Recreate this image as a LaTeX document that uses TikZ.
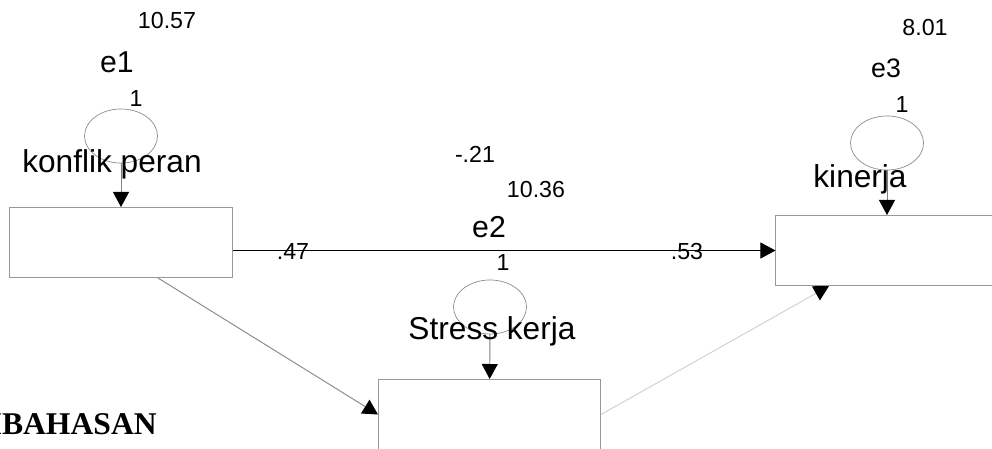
\documentclass[tikz,border=0pt]{standalone}
\usepackage{fontspec}
\setmainfont{Liberation Sans}
\newfontfamily\headfont{Liberation Serif}
\usetikzlibrary{arrows.meta,shapes.geometric}

\begin{document}
\begin{tikzpicture}[
  x=0.025cm, y=-0.025cm,
  obs/.style={draw=black!40, line width=0.7pt, minimum width=5.55cm, minimum height=1.75cm, inner sep=0pt},
  resid/.style={ellipse, draw=black!45, line width=0.5pt, minimum width=1.825cm, minimum height=1.35cm, inner sep=0pt},
  effect/.style={-{Triangle[length=0.375cm,width=0.4cm,black]}, line width=0.7pt},
  varlab/.style={font=\fontsize{22.5}{26}\selectfont, anchor=base, inner sep=0pt},
  errlab/.style={font=\fontsize{21.5}{25}\selectfont, anchor=base, inner sep=0pt},
  num/.style={font=\fontsize{16.5}{20}\selectfont, anchor=base, inner sep=0pt},
]
\useasboundingbox (0,0) rectangle (992,448);

%boxes
\node[obs] (kp)  at (121,242.5) {};
\node[obs] (kin) at (887,250.5) {};
\node[obs] (sk)  at (489.5,414.5) {};

%residuals
\node[resid] (e1) at (121,136) {};
\node[resid] (e2) at (490,307) {};
\node[resid] (e3) at (887,143) {};

%paths
\draw[effect, draw=black!50] (e1) -- (kp);
\draw[effect, draw=black!50] (e2) -- (sk);
\draw[effect, draw=black!50] (e3) -- (kin);
\draw[effect] (kp.east |- kin.west) -- (kin.west);
\draw[effect, draw=black!45] ([xshift=0.925cm]kp.south) -- (sk.west);
\draw[effect, draw=black!18] (sk.east) -- ([xshift=-1.45cm]kin.south);

%konflik peran
\node[num]    (v1) at (167,28)   {10.57};
\node[errlab] (n1) at (117,72.5) {e1};
\node[num]    (w1) at (136,106)  {1};
\node[varlab] (l1) at (112,172)  {konflik peran};

%Stress kerja
\node[num]    (c1) at (475,162)  {-.21};
\node[num]    (v2) at (536,197)  {10.36};
\node[errlab] (n2) at (489,237)  {e2};
\node[num]    (w2) at (503,270)  {1};
\node[varlab] (l2) at (492,339)  {Stress kerja};

%kinerja
\node[num]    (v3) at (925,35)   {8.01};
\node[num, font=\fontsize{19}{22}\selectfont] (n3) at (886,77) {e3};
\node[num]    (w3) at (902,112)  {1};
\node[varlab] (l3) at (860,187)  {kinerja};

%coefficients
\node[num] (c2) at (293,259) {.47};
\node[num] (c3) at (687,259) {.53};

\node[font=\headfont\bfseries\fontsize{22.5}{26}\selectfont, anchor=base east, inner sep=0pt] (head) at (157,434) {PEMBAHASAN};

\end{tikzpicture}
\end{document}
